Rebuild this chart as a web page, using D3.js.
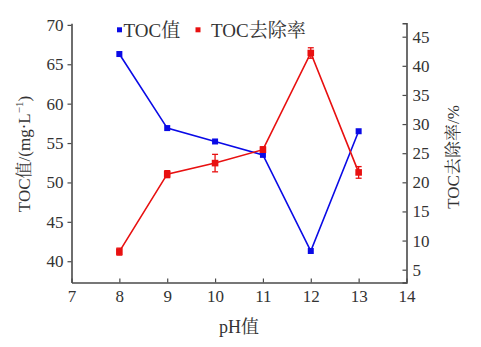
<!DOCTYPE html>
<html><head><meta charset="utf-8">
<script src="https://cdn.jsdelivr.net/npm/d3@7"></script>
<style>body{margin:0;background:#fff;}</style>
</head>
<body><svg id="c" width="481" height="347"></svg>
<script>
const pH = [8, 9, 10, 11, 12, 13];
const tocValue = [66.3, 56.9, 55.2, 53.5, 41.3, 56.5];
const removalRate = [8.1, 21.4, 23.3, 25.6, 42.2, 21.7];
const removalErr = [0.6, 0.6, 1.5, 0.5, 0.9, 1.0];
const xTicks = [7, 8, 9, 10, 11, 12, 13, 14];
const leftTicks = [40, 45, 50, 55, 60, 65, 70];
const rightTicks = [5, 10, 15, 20, 25, 30, 35, 40, 45];
const seriesNames = ["TOC值", "TOC去除率"];

const FONT = '"Liberation Serif","Noto Serif CJK SC","Noto Sans CJK SC",serif';
const svg = d3.select("#c");
const axisColor = "#4a4a4a", textColor = "#333";
const blue = "#0a0ae6", red = "#e81010";
const x = d3.scaleLinear().domain([7, 14]).range([71.5, 406.5]);
const yL = d3.scaleLinear().domain([37.3, 70.2]).range([282.5, 23.3]);
const yR = d3.scaleLinear().domain([2.8, 47.3]).range([282.5, 23.3]);

function style(g){
  g.attr("font-family", null);
  g.select(".domain").attr("stroke", axisColor).attr("stroke-width", 1.6);
  g.selectAll(".tick line").attr("stroke", axisColor).attr("stroke-width", 1.2);
  g.selectAll(".tick text").attr("fill", textColor).attr("font-size", 17)
    .style("font-family", FONT);
}

svg.append("g").attr("transform", "translate(0,282.5)")
  .call(d3.axisBottom(x).tickValues(xTicks).tickFormat(d3.format("d")).tickSizeInner(-4).tickSizeOuter(0).tickPadding(7))
  .call(style);
svg.append("g").attr("transform", "translate(71.5,0)")
  .call(d3.axisLeft(yL).tickValues(leftTicks).tickFormat(d3.format("d")).tickSizeInner(4).tickSizeOuter(0).tickPadding(4))
  .call(style);
svg.append("g").attr("transform", "translate(406.5,0)")
  .call(d3.axisRight(yR).tickValues(rightTicks).tickFormat(d3.format("d")).tickSizeInner(-4).tickSizeOuter(-4).tickPadding(6))
  .call(style);

// axis titles
svg.append("text").attr("x", 239).attr("y", 333).attr("text-anchor", "middle")
  .attr("font-size", 18).attr("fill", textColor).style("font-family", FONT).text("pH值");
const lt = svg.append("text").attr("transform", "translate(30,154) rotate(-90)")
  .attr("text-anchor", "middle").attr("font-size", 17).attr("fill", textColor).style("font-family", FONT);
lt.append("tspan").text("TOC值/(mg·L");
lt.append("tspan").attr("dy", -7).attr("font-size", 11).text("−1");
lt.append("tspan").attr("dy", 7).text(")");
svg.append("text").attr("transform", "translate(459,157) rotate(-90)")
  .attr("text-anchor", "middle").attr("font-size", 17).attr("fill", textColor).style("font-family", FONT).text("TOC去除率/%");

// lines
const lineL = d3.line().x((d, i) => x(pH[i])).y(d => yL(d));
const lineR = d3.line().x((d, i) => x(pH[i])).y(d => yR(d));
svg.append("path").datum(tocValue).attr("d", lineL).attr("fill", "none").attr("stroke", blue).attr("stroke-width", 1.6);
svg.append("path").datum(removalRate).attr("d", lineR).attr("fill", "none").attr("stroke", red).attr("stroke-width", 1.6);

// error bars
const eb = svg.append("g").attr("stroke", red).attr("stroke-width", 1.3);
removalRate.forEach((v, i) => {
  const cx = x(pH[i]), t = yR(v + removalErr[i]), b = yR(v - removalErr[i]);
  eb.append("line").attr("x1", cx).attr("x2", cx).attr("y1", t).attr("y2", b);
  eb.append("line").attr("x1", cx - 3).attr("x2", cx + 3).attr("y1", t).attr("y2", t);
  eb.append("line").attr("x1", cx - 3).attr("x2", cx + 3).attr("y1", b).attr("y2", b);
});

// markers
svg.append("g").selectAll("rect").data(tocValue).join("rect")
  .attr("x", (d, i) => x(pH[i]) - 3).attr("y", d => yL(d) - 3)
  .attr("width", 6).attr("height", 6).attr("fill", blue);
svg.append("g").selectAll("rect").data(removalRate).join("rect")
  .attr("x", (d, i) => x(pH[i]) - 3.3).attr("y", d => yR(d) - 3.3)
  .attr("width", 6.6).attr("height", 6.6).attr("fill", red);

// legend
const leg = [{name: seriesNames[0], color: blue, x: 117, tx: 123.5}, {name: seriesNames[1], color: red, x: 195.5, tx: 211}];
leg.forEach(l => {
  svg.append("rect").attr("x", l.x).attr("y", 27.3).attr("width", 5).attr("height", 5).attr("fill", l.color);
  svg.append("text").attr("x", l.tx).attr("y", 36.5).attr("font-size", 19).attr("fill", textColor)
    .style("font-family", FONT).text(l.name);
});
</script></body></html>
